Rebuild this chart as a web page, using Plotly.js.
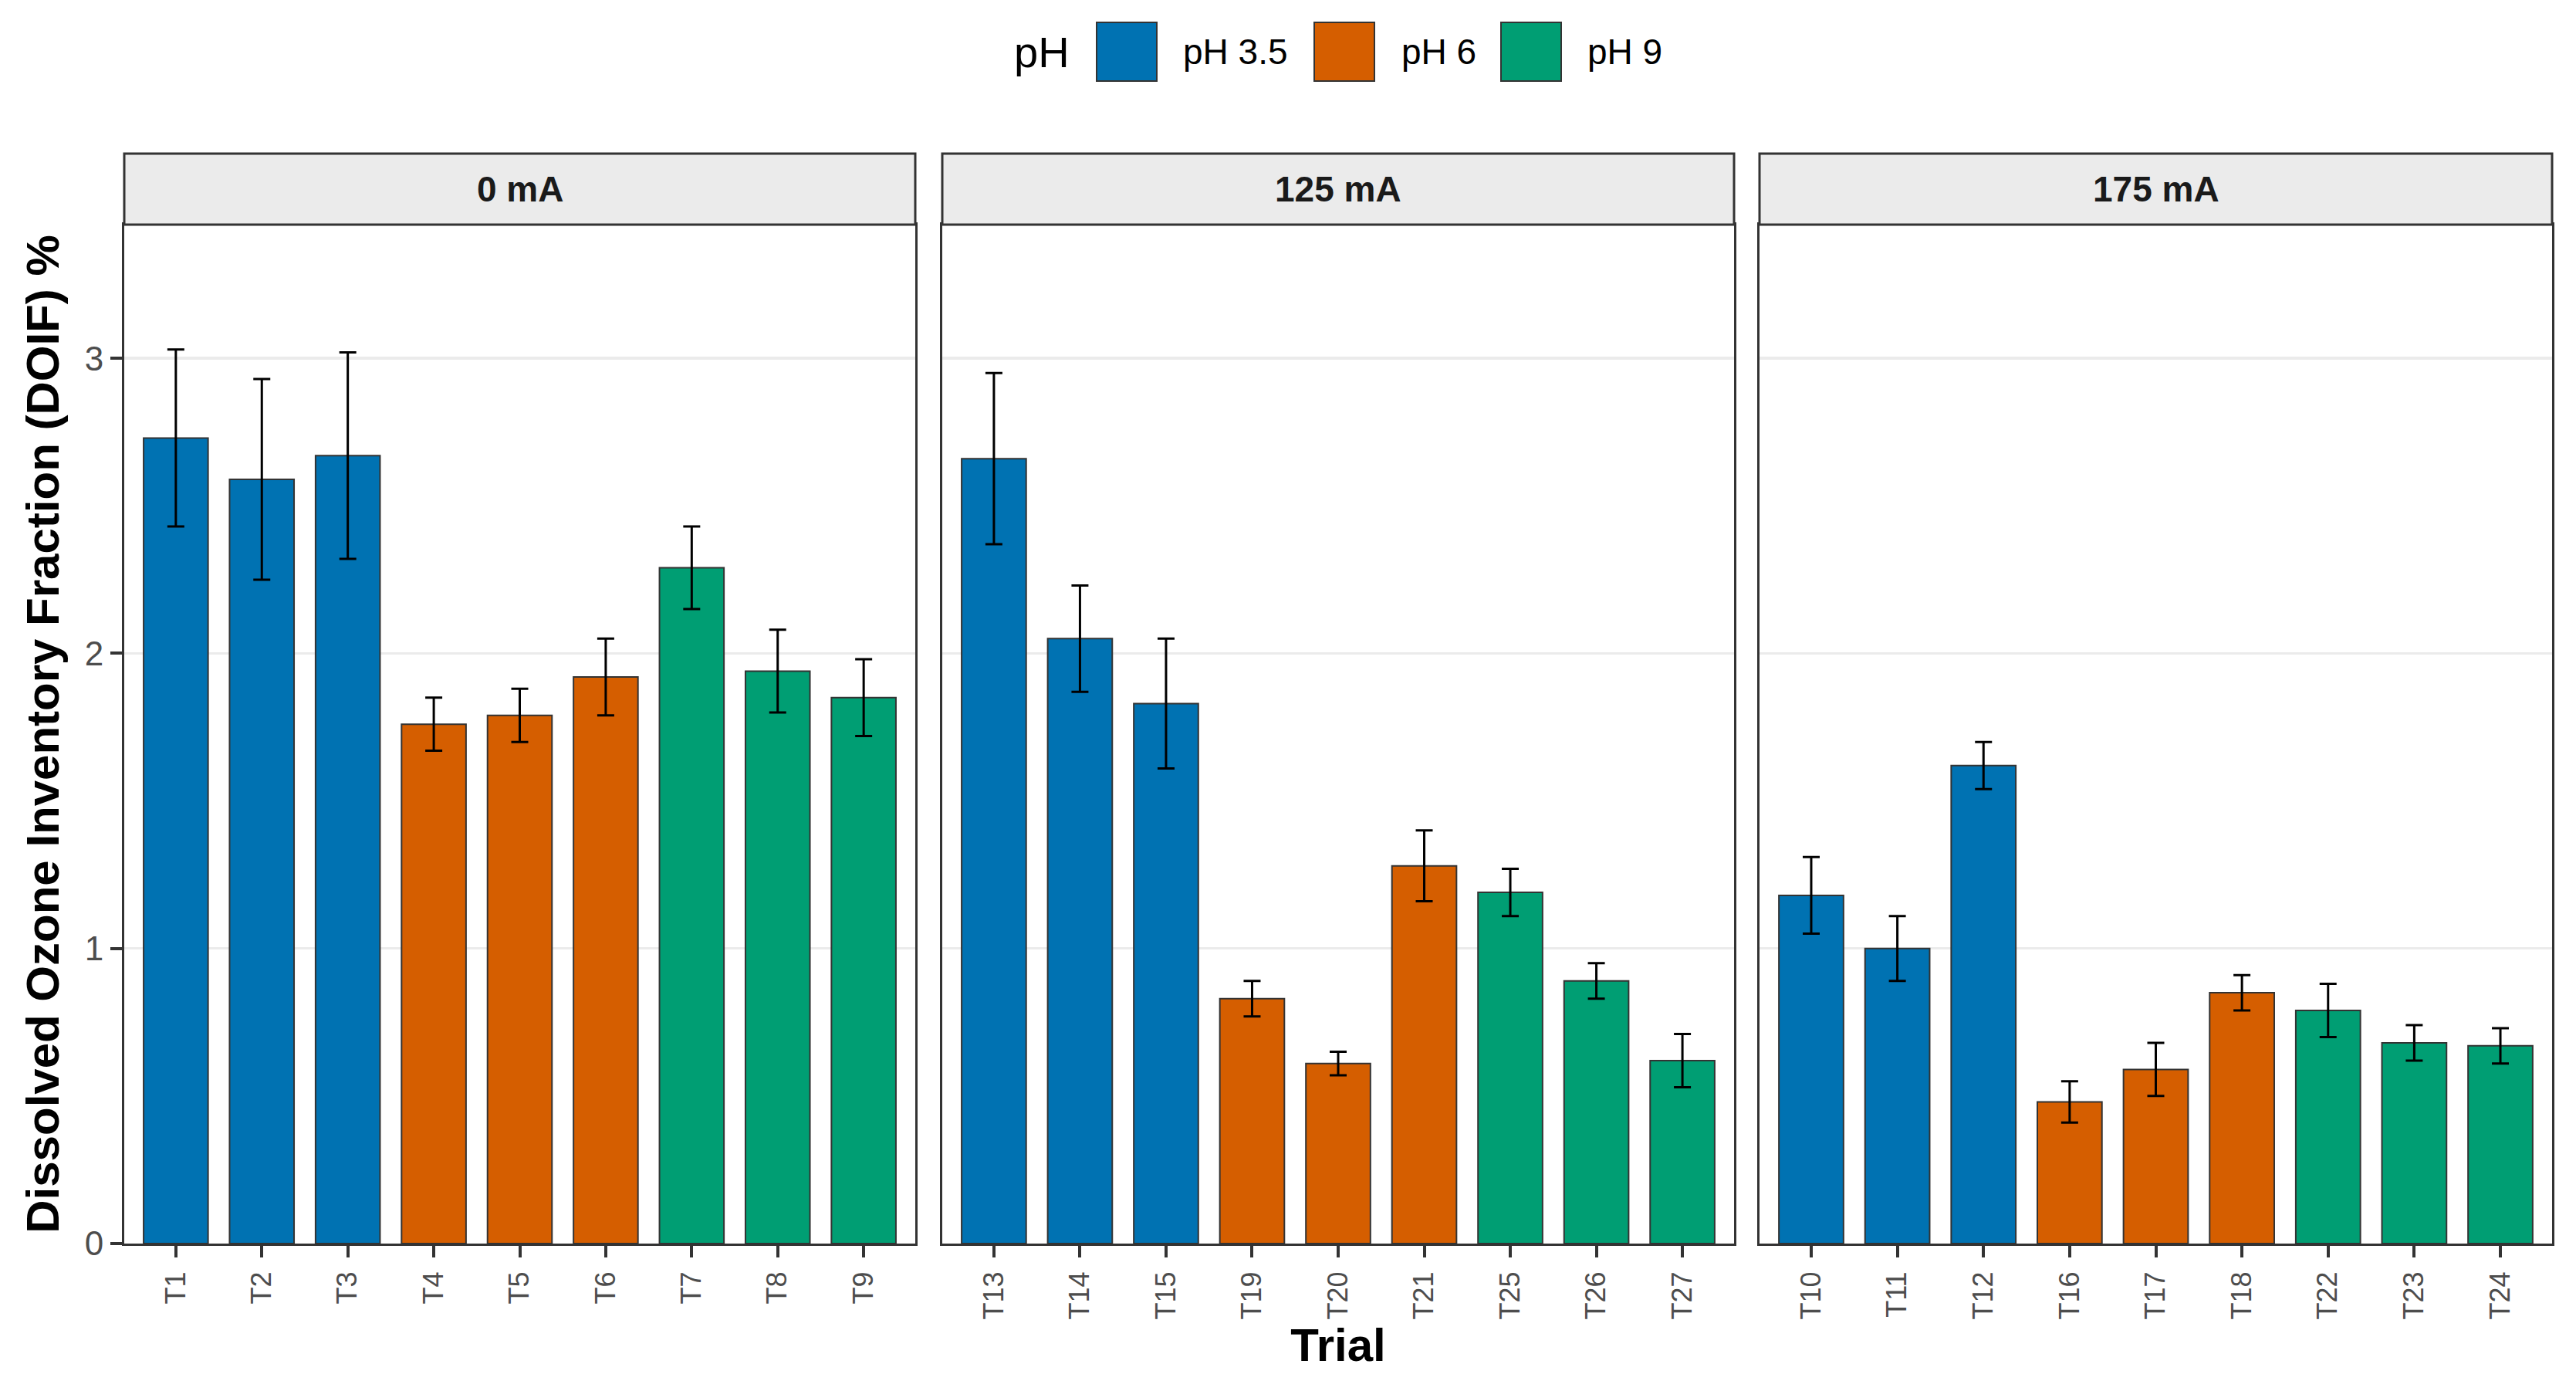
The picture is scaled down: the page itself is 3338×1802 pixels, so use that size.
<!DOCTYPE html>
<html>
<head>
<meta charset="utf-8">
<script src="https://cdn.plot.ly/plotly-3.0.1.min.js"></script>
<style>
  body { margin: 0; background: #ffffff; }
  #chart { width: 3338px; height: 1802px; }
</style>
</head>
<body>
<div id="chart"></div>
<script>
// facets (current) and the trials in each one
const currents = ['0 mA', '125 mA', '175 mA'];
const trials = [
  ['T1', 'T2', 'T3', 'T4', 'T5', 'T6', 'T7', 'T8', 'T9'],
  ['T13', 'T14', 'T15', 'T19', 'T20', 'T21', 'T25', 'T26', 'T27'],
  ['T10', 'T11', 'T12', 'T16', 'T17', 'T18', 'T22', 'T23', 'T24']
];
const phLevels = ['pH 3.5', 'pH 6', 'pH 9'];
const phOfTrial = ['pH 3.5', 'pH 3.5', 'pH 3.5', 'pH 6', 'pH 6', 'pH 6', 'pH 9', 'pH 9', 'pH 9'];

// DOIF mean (%) and error bar half-height
const doif = [
  [2.73, 2.59, 2.67, 1.76, 1.79, 1.92, 2.29, 1.94, 1.85],
  [2.66, 2.05, 1.83, 0.83, 0.61, 1.28, 1.19, 0.89, 0.62],
  [1.18, 1.00, 1.62, 0.48, 0.59, 0.85, 0.79, 0.68, 0.67]
];
const doifErr = [
  [0.30, 0.34, 0.35, 0.09, 0.09, 0.13, 0.14, 0.14, 0.13],
  [0.29, 0.18, 0.22, 0.06, 0.04, 0.12, 0.08, 0.06, 0.09],
  [0.13, 0.11, 0.08, 0.07, 0.09, 0.06, 0.09, 0.06, 0.06]
];

const phColors = {'pH 3.5': '#0072B2', 'pH 6': '#D55E00', 'pH 9': '#009E73'};
const FONT = 'Liberation Sans, Arial, Helvetica, sans-serif';

// page geometry (pixels)
const W = 3338, H = 1802;
const plotL = 161, plotR = 3307, plotT = 291, plotB = 1611;
const plotW = plotR - plotL, plotH = plotB - plotT;
const panelPx = [[161, 1186], [1221, 2247], [2280, 3307]];
const px2x = p => (p - plotL) / plotW;
const px2y = p => (plotB - p) / plotH;

let data = [];
let layout = {
  width: W,
  height: H,
  margin: {l: plotL, r: W - plotR, t: plotT, b: H - plotB, pad: 0},
  paper_bgcolor: '#ffffff',
  plot_bgcolor: '#ffffff',
  showlegend: false,
  barmode: 'overlay',
  font: {family: FONT, color: '#000000'},
  shapes: [],
  annotations: []
};

for (let i = 0; i < currents.length; i++) {
  let sfx = i == 0 ? '' : String(i + 1);
  let dom = [px2x(panelPx[i][0]), px2x(panelPx[i][1])];

  data.push({
    type: 'bar',
    x: trials[i],
    y: doif[i],
    xaxis: 'x' + sfx,
    yaxis: 'y' + sfx,
    width: 0.75,
    marker: {
      color: phOfTrial.map(p => phColors[p]),
      line: {color: '#333333', width: 2}
    },
    error_y: {
      type: 'data',
      array: doifErr[i],
      visible: true,
      color: '#000000',
      thickness: 3,
      width: 11
    },
    hoverinfo: 'x+y'
  });

  layout['xaxis' + sfx] = {
    domain: dom,
    anchor: 'y' + sfx,
    type: 'category',
    categoryorder: 'array',
    categoryarray: trials[i],
    range: [-0.6, trials[i].length - 0.4],
    showgrid: false,
    zeroline: false,
    showline: true,
    mirror: true,
    linecolor: '#333333',
    linewidth: 3,
    ticks: 'outside',
    ticklen: 15,
    tickwidth: 4,
    tickcolor: '#333333',
    tickangle: -90,
    ticklabelstandoff: 4,
    tickfont: {family: FONT, size: 36, color: '#4D4D4D'},
    fixedrange: true
  };

  layout['yaxis' + sfx] = {
    anchor: 'x' + sfx,
    range: [0, 3.453],
    tickvals: [0, 1, 2, 3],
    showgrid: true,
    gridcolor: '#EBEBEB',
    gridwidth: 3.5,
    zeroline: false,
    showline: true,
    mirror: true,
    linecolor: '#333333',
    linewidth: 3,
    ticks: i == 0 ? 'outside' : '',
    ticklen: 15,
    tickwidth: 4,
    tickcolor: '#333333',
    showticklabels: i == 0,
    tickfont: {family: FONT, size: 44, color: '#4D4D4D'},
    fixedrange: true
  };
  if (i > 0) layout['yaxis' + sfx].matches = 'y';

  // facet strip
  layout.shapes.push({
    type: 'rect', xref: 'paper', yref: 'paper',
    x0: dom[0], x1: dom[1], y0: 1, y1: px2y(199),
    fillcolor: '#EBEBEB',
    line: {color: '#333333', width: 3},
    layer: 'above'
  });
  layout.annotations.push({
    xref: 'paper', yref: 'paper',
    x: (dom[0] + dom[1]) / 2, y: px2y(245),
    xanchor: 'center', yanchor: 'middle',
    text: '<b>' + currents[i] + '</b>',
    showarrow: false,
    font: {family: FONT, size: 46, color: '#1A1A1A'}
  });
}

layout.yaxis.title = {
  text: '<b>Dissolved Ozone Inventory Fraction (DOIF) %</b>',
  font: {family: FONT, size: 60, color: '#000000'},
  standoff: 14
};
layout.xaxis2.title = {
  text: '<b>Trial</b>',
  font: {family: FONT, size: 60, color: '#000000'},
  standoff: 4
};

// legend drawn at the top, ggplot style with large keys
const keyLeft = [1421, 1703, 1945];
const labelLeft = [1531, 1814, 2055];
const legendMid = 67;
layout.annotations.push({
  xref: 'paper', yref: 'paper',
  x: px2x(1388), y: px2y(legendMid),
  xanchor: 'right', yanchor: 'middle',
  text: 'pH', showarrow: false,
  font: {family: FONT, size: 56, color: '#000000'}
});
for (let k = 0; k < phLevels.length; k++) {
  layout.shapes.push({
    type: 'rect', xref: 'paper', yref: 'paper',
    x0: px2x(keyLeft[k]), x1: px2x(keyLeft[k] + 78),
    y0: px2y(legendMid + 38), y1: px2y(legendMid - 38),
    fillcolor: phColors[phLevels[k]],
    line: {color: '#333333', width: 2}
  });
  layout.annotations.push({
    xref: 'paper', yref: 'paper',
    x: px2x(labelLeft[k]), y: px2y(legendMid),
    xanchor: 'left', yanchor: 'middle',
    text: phLevels[k], showarrow: false,
    font: {family: FONT, size: 46, color: '#000000'}
  });
}

Plotly.newPlot('chart', data, layout, {displayModeBar: false, staticPlot: true});
</script>
</body>
</html>
